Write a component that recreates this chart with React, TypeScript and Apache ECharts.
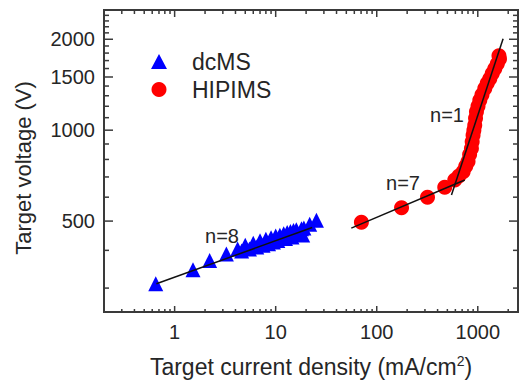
import React, { useEffect, useRef } from "react";
import * as echarts from "echarts";

// ---- data ----
const dcmsCurrent = [0.65, 1.52, 2.22, 3.25, 4.2, 4.6, 5.0, 5.5, 6.0, 6.5, 7.0, 7.5, 8.0, 8.5, 9.0, 9.5, 10, 10.5, 11, 12, 12.5, 13, 14, 14.5, 15, 16, 17, 18, 18.5, 19, 21.7, 25.3];
const dcmsVoltage = [310, 345, 370, 389, 404, 398, 416, 404, 422, 410, 430, 416, 435, 421, 440, 426, 446, 431, 449, 454, 438, 458, 462, 443, 465, 468, 452, 472, 450, 474, 488, 503];

const hipimsCurrent = [70.5, 176, 318, 471, 592, 650, 716, 760, 801, 830, 865, 880, 898, 915, 933, 950, 970, 1005, 1047, 1100, 1173, 1240, 1315, 1390, 1473, 1560, 1640, 1620];
const hipimsVoltage = [496, 554, 600, 647, 684, 705, 729, 760, 787, 830, 870, 915, 962, 1000, 1039, 1095, 1150, 1200, 1256, 1310, 1373, 1430, 1481, 1540, 1598, 1660, 1720, 1765];

const fitN8Current = [0.66, 23];
const fitN8Voltage = [310, 476];
const fitN7Current = [56, 743];
const fitN7Voltage = [474, 684];
const fitN1Current = [549, 1780];
const fitN1Voltage = [610, 2007];

const X_MIN = 0.2;
const X_MAX = 2500;
const Y_MIN = 250;
const Y_MAX = 2500;

const xMajorTicks = [1, 10, 100, 1000];
const xMinorTicks = [0.3, 0.4, 0.5, 0.6, 0.7, 0.8, 0.9, 2, 3, 4, 5, 6, 7, 8, 9, 20, 30, 40, 50, 60, 70, 80, 90, 200, 300, 400, 500, 600, 700, 800, 900, 2000];
const yMajorTicks = [500, 1000, 1500, 2000];
const yMinorTicks = [300, 400, 600, 700, 800, 900, 1100, 1200, 1300, 1400, 1600, 1700, 1800, 1900, 2100, 2200, 2300, 2400];

const seriesNames = ["dcMS", "HIPIMS"];
const fitLabels = ["n=8", "n=7", "n=1"];

const FONT = "'Liberation Sans', Arial, Helvetica, sans-serif";
const AXIS_COLOR = "#3a3a3a";
const TEXT_COLOR = "#262626";

// plot frame layout
const GRID_LEFT = 104;
const GRID_TOP = 10;
const GRID_W = 414;
const GRID_H = 303;

function zip(a: number[], b: number[]) {
  return a.map((v, i) => [v, b[i]]);
}

export default function App() {
  const ref = useRef<HTMLDivElement>(null);

  useEffect(() => {
    if (!ref.current) return;
    const chart = echarts.init(ref.current, undefined, { renderer: "svg" });

    const fitLine = (xs: number[], ys: number[]) => ({
      type: "line",
      data: zip(xs, ys),
      symbol: "none",
      silent: true,
      lineStyle: { color: "#111", width: 1.5 },
      z: 5,
    });

    const labelStyle = { fontSize: 20, fontFamily: FONT, fill: TEXT_COLOR, align: "center", verticalAlign: "middle" };
    const fitTexts = [
      { type: "text", x: 222, y: 236, z: 30, style: { ...labelStyle, text: fitLabels[0] } },
      { type: "text", x: 403, y: 183, z: 30, style: { ...labelStyle, text: fitLabels[1] } },
      { type: "text", x: 447, y: 115, z: 30, style: { ...labelStyle, text: fitLabels[2] } },
    ];

    chart.setOption({
      animation: false,
      backgroundColor: "#ffffff",
      grid: {
        left: GRID_LEFT,
        top: GRID_TOP,
        width: GRID_W,
        height: GRID_H,
        containLabel: false,
        show: true,
        borderColor: AXIS_COLOR,
        borderWidth: 2,
        backgroundColor: "transparent",
      },
      legend: {
        orient: "vertical",
        left: 146,
        top: 45,
        itemWidth: 16,
        itemHeight: 15,
        itemGap: 5,
        textStyle: { fontSize: 23, fontFamily: FONT, color: TEXT_COLOR, padding: [0, 0, 0, 20] },
        data: [
          { name: seriesNames[0], icon: "triangle" },
          { name: seriesNames[1], icon: "circle" },
        ],
      },
      xAxis: {
        type: "log",
        logBase: 10,
        min: X_MIN,
        max: X_MAX,
        position: "bottom",
        axisLine: { show: false },
        axisTick: { show: false },
        axisLabel: {
          show: true,
          customValues: xMajorTicks,
          margin: 10,
          fontSize: 20,
          fontFamily: FONT,
          color: TEXT_COLOR,
          formatter: (v: number) => String(Math.round(v)),
        },
        splitLine: { show: false },
        minorTick: { show: false },
        name: "Target current density (mA/cm{sup|2})",
        nameLocation: "middle",
        nameGap: 42,
        nameTextStyle: {
          fontSize: 23,
          fontFamily: FONT,
          color: TEXT_COLOR,
          rich: { sup: { fontSize: 14, fontFamily: FONT, color: TEXT_COLOR, padding: [0, 0, 11, 0] } },
        },
      },
      yAxis: {
        type: "log",
        logBase: 10,
        min: Y_MIN,
        max: Y_MAX,
        position: "left",
        axisLine: { show: false },
        axisTick: { show: false },
        axisLabel: {
          show: true,
          customValues: yMajorTicks,
          margin: 9,
          fontSize: 20,
          fontFamily: FONT,
          color: TEXT_COLOR,
          formatter: (v: number) => String(Math.round(v)),
        },
        splitLine: { show: false },
        minorTick: { show: false },
        name: "Target voltage (V)",
        nameLocation: "middle",
        nameGap: 70,
        nameTextStyle: { fontSize: 22, fontFamily: FONT, color: TEXT_COLOR, padding: [0, 14, 0, 0] },
      },
      series: [
        {
          name: seriesNames[0],
          type: "scatter",
          symbol: "triangle",
          symbolSize: 15,
          itemStyle: { color: "#0000ff", opacity: 1 },
          data: zip(dcmsCurrent, dcmsVoltage),
          z: 3,
        },
        {
          name: seriesNames[1],
          type: "scatter",
          symbol: "circle",
          symbolSize: 15,
          itemStyle: { color: "#ff0000", opacity: 1 },
          data: zip(hipimsCurrent, hipimsVoltage),
          z: 3,
        },
        fitLine(fitN8Current, fitN8Voltage),
        fitLine(fitN7Current, fitN7Voltage),
        fitLine(fitN1Current, fitN1Voltage),
      ],
      graphic: fitTexts,
    });

    // Frame ticks, pointing inward. Tick positions come from the axes' own scales,
    // converted at interior anchor values (x = 1, y = 1000).
    const ticks: any[] = [];
    try {
      const toPx = (x: number, y: number): any =>
        chart.convertToPixel({ xAxisIndex: 0, yAxisIndex: 0 }, [x, y]);
      const left = GRID_LEFT;
      const right = GRID_LEFT + GRID_W;
      const top = GRID_TOP;
      const bottom = GRID_TOP + GRID_H;
      const seg = (x1: number, y1: number, x2: number, y2: number) => ({
        type: "line",
        silent: true,
        z: 20,
        shape: { x1, y1, x2, y2 },
        style: { stroke: AXIS_COLOR, lineWidth: 1.5 },
      });
      [...xMajorTicks, ...xMinorTicks].forEach((v) => {
        const p = toPx(v, 1000);
        if (!p || !isFinite(p[0])) return;
        const px = p[0];
        const len = xMajorTicks.indexOf(v) >= 0 ? 7 : 4;
        ticks.push(seg(px, bottom, px, bottom - len));
        ticks.push(seg(px, top, px, top + len));
      });
      [...yMajorTicks, ...yMinorTicks].forEach((v) => {
        const p = toPx(1, v);
        if (!p || !isFinite(p[1])) return;
        const py = p[1];
        const len = yMajorTicks.indexOf(v) >= 0 ? 9 : 5;
        ticks.push(seg(left, py, left + len, py));
        ticks.push(seg(right, py, right - len, py));
      });
    } catch (e) {
      // leave ticks empty if conversion is unavailable
    }
    if (ticks.length) {
      chart.setOption({ graphic: [...fitTexts, ...ticks] });
    }

    return () => chart.dispose();
  }, []);

  return (
    <div
      ref={ref}
      style={{ position: "absolute", left: 0, top: 0, width: 524, height: 383, background: "#fff" }}
    />
  );
}
